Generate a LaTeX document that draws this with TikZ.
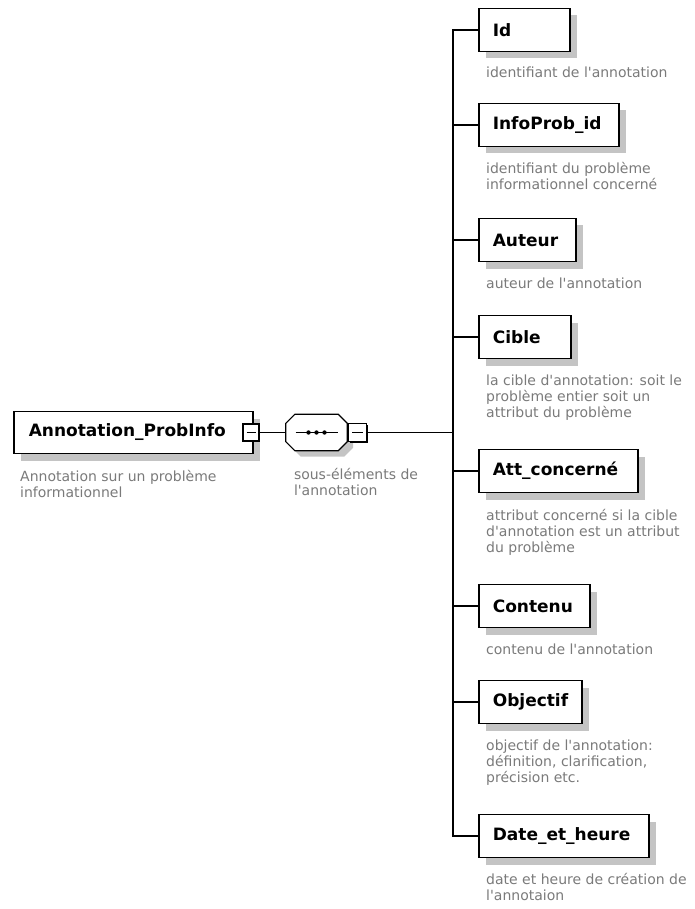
\documentclass[tikz,border=0pt]{standalone}
\usepackage{fontspec}
\setmainfont{DejaVu Sans}[Ligatures=TeXOff]
\usetikzlibrary{positioning, shadows}
\definecolor{C_LINE}{HTML}{000000}
\definecolor{C_SHAD}{HTML}{C4C4C4}
\definecolor{C_DESC}{HTML}{7A7A7A}
\tikzset{
  %% -- schema element box --
  XS/elem/.style={
    draw=C_LINE, line width=1.6pt, fill=white,
    minimum height=43pt, inner xsep=14pt, inner ysep=0pt,
    anchor=west, align=left,
    font=\fontsize{17}{19}\selectfont\bfseries,
    drop shadow={shadow xshift=7pt, shadow yshift=-7pt,
      fill=C_SHAD, opacity=1}
  },
  %% -- collapse (minus) button --
  XS/minus/.style={
    draw=C_LINE, line width=1.1pt, fill=white,
    minimum width=16pt, minimum height=17pt, inner sep=0pt,
    drop shadow={shadow xshift=1.4pt, shadow yshift=-1.4pt,
      fill=C_LINE, opacity=1},
    path picture={
      \draw[line width=1pt]
        ([xshift=3.5pt]path picture bounding box.west) --
        ([xshift=-3.5pt]path picture bounding box.east);
    }
  },
  %% -- sequence compositor (octagon drawn round it) --
  XS/seq/.style={
    draw=none, minimum width=61pt, minimum height=36pt, inner sep=0pt
  },
  XS/oct/.style={draw=C_LINE, line width=1.2pt, fill=white},
  XS/octshad/.style={fill=C_SHAD, draw=none},
  %% -- annotation text --
  XS/desc/.style={
    inner sep=0pt, align=left, text=C_DESC,
    font=\fontsize{14}{16}\selectfont
  },
  %% -- connector --
  XS/link/.style={draw=C_LINE, line width=1.2pt},
}
%% octagon round a node: #1 node, #2 chamfer, #3/#4 offset
\newcommand{\octpath}[4]{%
  ([xshift=#3+#2, yshift=#4]#1.north west) -- ([xshift=#3-#2, yshift=#4]#1.north east)
  -- ([xshift=#3, yshift=#4-#2]#1.north east) -- ([xshift=#3, yshift=#4+#2]#1.south east)
  -- ([xshift=#3-#2, yshift=#4]#1.south east) -- ([xshift=#3+#2, yshift=#4]#1.south west)
  -- ([xshift=#3, yshift=#4+#2]#1.south west) -- ([xshift=#3, yshift=#4-#2]#1.north west)
  -- cycle}

\begin{document}
\begin{tikzpicture}[x=1pt, y=-1pt]
\useasboundingbox (0,0) rectangle (694,909);

%% ── Children x-position ──────────────────────────────────────
\pgfmathsetmacro{\xE}{478}   % left edge of child boxes
\pgfmathsetmacro{\xT}{453}   % trunk

%% ── Root element ─────────────────────────────────────────────
\node[XS/elem, inner xsep=15pt, text width=209pt, minimum height=42pt]
  (root) at (13,432.5) {Annotation\_ProbInfo};
\node[XS/minus] (rootm) at (251,432.5) {};
\node[XS/desc, below right=16pt and 7pt of root.south west]
  (rootd) {Annotation sur un problème\\informationnel};

%% ── Sequence ─────────────────────────────────────────────────
\node[XS/seq] (seq) at (316.5,432.5) {};
\path[XS/octshad] \octpath{seq}{9pt}{6pt}{-6pt};
\path[XS/oct] \octpath{seq}{9pt}{0pt}{0pt};
\draw[line width=1.1pt] ([xshift=-21pt]seq.center) -- ([xshift=21pt]seq.center);
\fill ([xshift=-8pt]seq.center) circle (2.2pt);
\fill (seq.center) circle (2.2pt);
\fill ([xshift=8pt]seq.center) circle (2.2pt);
\node[XS/minus, minimum width=18pt, minimum height=18pt]
  (seqm) at (357.5,432.5) {};
\node[XS/desc, below right=17pt and 8pt of seq.south west]
  (seqd) {sous-éléments de\\l'annotation};

\coordinate (T) at (\xT,432.5);

%% ── Child elements ───────────────────────────────────────────
\node[XS/elem, text width=63pt]  (id)   at (\xE,30)  {Id};
\node[XS/elem, text width=112pt] (info) at (\xE,125) {InfoProb\_id};
\node[XS/elem, text width=69pt]  (aut)  at (\xE,240) {Auteur};
\node[XS/elem, text width=64pt]  (cib)  at (\xE,337) {Cible};
\node[XS/elem, text width=131pt] (att)  at (\xE,471) {Att\_concerné};
\node[XS/elem, text width=83pt]  (cont) at (\xE,606) {Contenu};
\node[XS/elem, text width=75pt]  (obj)  at (\xE,702) {Objectif};
\node[XS/elem, text width=142pt] (date) at (\xE,836) {Date\_et\_heure};

%% ── Child annotations ────────────────────────────────────────
\node[XS/desc, below right=14pt and 8pt of id.south west]
  {identifiant de l'annotation};
\node[XS/desc, below right=15pt and 8pt of info.south west]
  {identifiant du problème\\informationnel concerné};
\node[XS/desc, below right=15pt and 8pt of aut.south west]
  {auteur de l'annotation};
\node[XS/desc, below right=15pt and 8pt of cib.south west]
  {la cible d'annotation: soit le\\problème entier soit un\\attribut du problème};
\node[XS/desc, below right=16pt and 8pt of att.south west]
  {attribut concerné si la cible\\d'annotation est un attribut\\du problème};
\node[XS/desc, below right=15pt and 8pt of cont.south west]
  {contenu de l'annotation};
\node[XS/desc, below right=15pt and 8pt of obj.south west]
  {objectif de l'annotation:\\définition, clarification,\\précision etc.};
\node[XS/desc, below right=15pt and 8pt of date.south west]
  {date et heure de création de\\l'annotaion};

%% ── Connectors ───────────────────────────────────────────────
\draw[XS/link] (rootm.east) -- (seq.west);
\draw[XS/link] (seqm.east) -- (T);
\draw[XS/link] (id.west)   -| (T);
\draw[XS/link] (info.west) -| (T);
\draw[XS/link] (aut.west)  -| (T);
\draw[XS/link] (cib.west)  -| (T);
\draw[XS/link] (att.west)  -| (T);
\draw[XS/link] (cont.west) -| (T);
\draw[XS/link] (obj.west)  -| (T);
\draw[XS/link] (date.west) -| (T);

\end{tikzpicture}
\end{document}
